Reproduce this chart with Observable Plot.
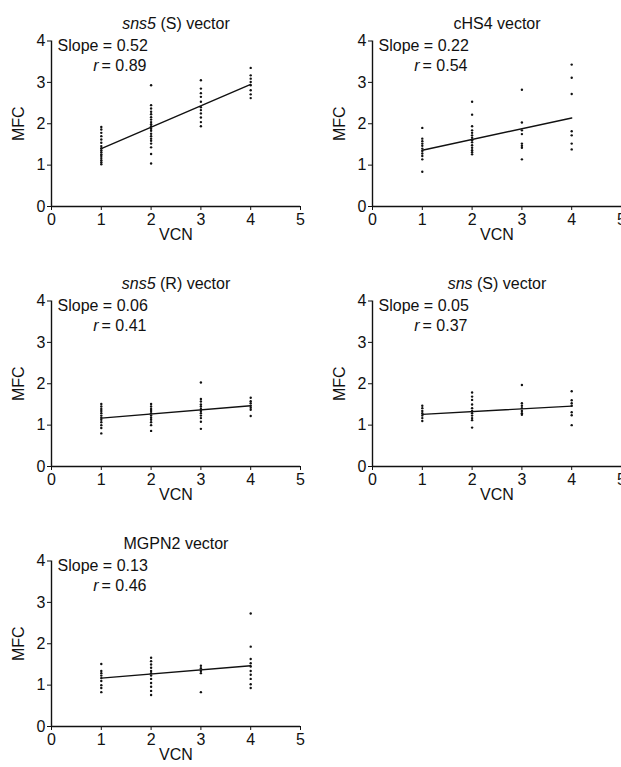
<!DOCTYPE html>
<html>
<head>
<meta charset="utf-8">
<script src="https://cdn.jsdelivr.net/npm/d3@7"></script>
<script src="https://cdn.jsdelivr.net/npm/@observablehq/plot@0.6"></script>
<style>
  html, body { margin: 0; padding: 0; background: #fff; overflow: hidden; }
  #root { position: relative; width: 621px; height: 767px; overflow: hidden; font-family: "Liberation Sans", Arial, Helvetica, sans-serif; }
  .panel { position: absolute; width: 310px; height: 260px; }
  .ptitle { position: absolute; left: 26px; width: 300px; top: 15px; text-align: center; font-size: 16px; line-height: 18px; color: #111; white-space: nowrap; }
  .panel svg { position: absolute; left: 0; top: 0; overflow: visible; }
</style>
</head>
<body>
<div id="root"></div>
<script>
// Panel titles (HTML, italic gene names)
const titles = [
  "<i>sns5</i> (S) vector",
  "cHS4 vector",
  "<i>sns5</i> (R) vector",
  "<i>sns</i> (S) vector",
  "MGPN2 vector"
];
const panelLeft = [0, 321, 0, 321, 0];
const panelTop = [0, 0, 260, 260, 520];

// VCN columns (x categories)
const vcnValues = [1, 2, 3, 4];

// MFC values per VCN column (1,2,3,4), one array per panel
const sns5S = [
  [1.92, 1.86, 1.78, 1.70, 1.62, 1.54, 1.46, 1.41, 1.36, 1.31, 1.26, 1.22, 1.17, 1.12, 1.07, 1.02],
  [2.93, 2.45, 2.37, 2.29, 2.23, 2.16, 2.10, 2.04, 1.99, 1.94, 1.88, 1.83, 1.76, 1.70, 1.64, 1.59, 1.52, 1.43, 1.27, 1.04],
  [3.05, 2.85, 2.74, 2.65, 2.53, 2.40, 2.33, 2.25, 2.15, 2.04, 1.94],
  [3.35, 3.17, 3.09, 3.01, 2.93, 2.81, 2.71, 2.62]
];
const cHS4 = [
  [1.90, 1.64, 1.58, 1.52, 1.47, 1.40, 1.34, 1.28, 1.22, 1.14, 0.84],
  [2.53, 2.22, 1.94, 1.84, 1.78, 1.72, 1.66, 1.60, 1.55, 1.48, 1.42, 1.36, 1.31, 1.26],
  [2.82, 2.03, 1.84, 1.75, 1.52, 1.47, 1.42, 1.14],
  [3.43, 3.11, 2.72, 1.82, 1.72, 1.52, 1.38]
];
const sns5R = [
  [1.51, 1.45, 1.39, 1.34, 1.29, 1.23, 1.18, 1.13, 1.07, 1.00, 0.93, 0.80],
  [1.51, 1.45, 1.39, 1.34, 1.29, 1.23, 1.18, 1.13, 1.07, 1.00, 0.86],
  [2.03, 1.63, 1.57, 1.50, 1.45, 1.39, 1.34, 1.29, 1.23, 1.17, 1.08, 0.91],
  [1.66, 1.58, 1.53, 1.47, 1.42, 1.37, 1.22]
];
const snsS = [
  [1.47, 1.41, 1.34, 1.29, 1.23, 1.17, 1.10],
  [1.79, 1.69, 1.61, 1.50, 1.41, 1.34, 1.29, 1.23, 1.17, 1.12, 0.94],
  [1.97, 1.53, 1.47, 1.41, 1.34, 1.29, 1.25],
  [1.82, 1.60, 1.53, 1.47, 1.31, 1.24, 1.00]
];
const mgpn2 = [
  [1.51, 1.34, 1.29, 1.23, 1.17, 1.10, 1.00, 0.93, 0.83],
  [1.66, 1.58, 1.50, 1.42, 1.34, 1.29, 1.23, 1.15, 1.05, 0.96, 0.86, 0.76],
  [1.47, 1.41, 1.34, 1.29, 0.83],
  [2.73, 1.93, 1.63, 1.53, 1.45, 1.34, 1.25, 1.15, 1.02, 0.93]
];
const panelData = [sns5S, cHS4, sns5R, snsS, mgpn2];

// Fitted line as drawn (value at VCN = 1 and VCN = 4)
const fitAt1 = [1.40, 1.36, 1.17, 1.26, 1.17];
const fitAt4 = [2.95, 2.14, 1.47, 1.46, 1.47];

// Annotation labels
const slopeLabels = ["0.52", "0.22", "0.06", "0.05", "0.13"];
const rLabels = ["0.89", "0.54", "0.41", "0.37", "0.46"];

// Axis ticks
const xTicks = [0, 1, 2, 3, 4, 5];
const yTicks = [0, 1, 2, 3, 4];

const FONT = "'Liberation Sans', Arial, Helvetica, sans-serif";
const root = document.getElementById("root");

titles.forEach((t, i) => {
  const pts = [];
  panelData[i].forEach((col, c) => col.forEach(v => pts.push({vcn: vcnValues[c], mfc: v})));
  const fit = [{vcn: 1, mfc: fitAt1[i]}, {vcn: 4, mfc: fitAt4[i]}];

  const chart = Plot.plot({
    width: 310,
    height: 260,
    marginLeft: 51,
    marginRight: 10,
    marginTop: 40.5,
    marginBottom: 54,
    style: {fontFamily: FONT, fontSize: "16px", color: "#111", background: "transparent", overflow: "visible"},
    x: {domain: [0, 5]},
    y: {domain: [0, 4]},
    marks: [
      Plot.axisX({ticks: xTicks, tickSize: 4, tickPadding: 3, fontSize: 16, label: null, tickFormat: d => String(d)}),
      Plot.axisY({ticks: yTicks, tickSize: 4, tickPadding: 2, fontSize: 16, label: null, tickFormat: d => String(d)}),
      Plot.ruleY([0], {x1: 0, x2: 5, stroke: "#111", strokeWidth: 1.6}),
      Plot.ruleX([0], {y1: 0, y2: 4, stroke: "#111", strokeWidth: 1.4}),
      Plot.dot(pts, {x: "vcn", y: "mfc", r: 1.2, fill: "#111", stroke: "none"}),
      Plot.line(fit, {x: "vcn", y: "mfc", stroke: "#111", strokeWidth: 1.4}),
      Plot.text(["Slope = " + slopeLabels[i]], {frameAnchor: "top-left", textAnchor: "start", lineAnchor: "middle", dx: 6, dy: 5, fontSize: 16, fill: "#111"}),
      Plot.text(["r"], {frameAnchor: "top-left", textAnchor: "end", lineAnchor: "middle", dx: 47, dy: 24.5, fontSize: 16, fontStyle: "italic", fill: "#111"}),
      Plot.text(["= " + rLabels[i]], {frameAnchor: "top-left", textAnchor: "start", lineAnchor: "middle", dx: 50, dy: 24.5, fontSize: 16, fill: "#111"}),
      Plot.text(["VCN"], {frameAnchor: "bottom", lineAnchor: "middle", textAnchor: "middle", dy: 28, fontSize: 16, fill: "#111"}),
      Plot.text(["MFC"], {frameAnchor: "left", lineAnchor: "middle", textAnchor: "middle", dx: -33, rotate: -90, fontSize: 16, fill: "#111"})
    ]
  });

  const panel = document.createElement("div");
  panel.className = "panel";
  panel.style.left = panelLeft[i] + "px";
  panel.style.top = panelTop[i] + "px";
  panel.appendChild(chart);
  const title = document.createElement("div");
  title.className = "ptitle";
  title.innerHTML = t;
  panel.appendChild(title);
  root.appendChild(panel);
});
</script>
</body>
</html>
